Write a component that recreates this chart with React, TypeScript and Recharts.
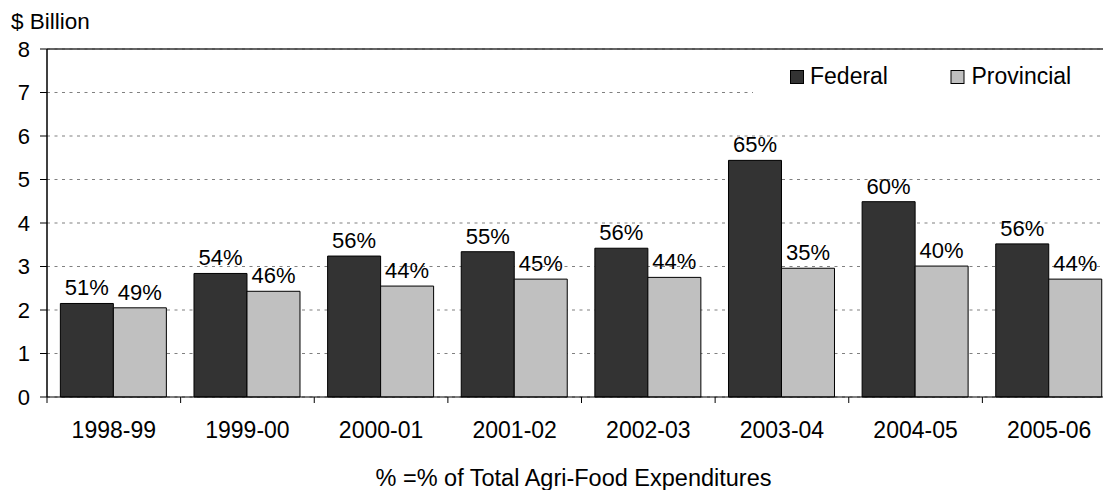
import React from 'react';
import {
  BarChart,
  Bar,
  XAxis,
  YAxis,
  CartesianGrid,
  Legend,
  LabelList,
  Label,
  ReferenceLine,
} from 'recharts';

// Fiscal years
const years = ['1998-99', '1999-00', '2000-01', '2001-02', '2002-03', '2003-04', '2004-05', '2005-06'];
// Spending, $ billion
const federal = [2.15, 2.84, 3.24, 3.34, 3.42, 5.44, 4.49, 3.52];
const provincial = [2.05, 2.43, 2.55, 2.71, 2.75, 2.96, 3.01, 2.71];
// Share of total agri-food expenditures, %
const federalShare = [51, 54, 56, 55, 56, 65, 60, 56];
const provincialShare = [49, 46, 44, 45, 44, 35, 40, 44];
// Value axis ticks
const yTicks = [0, 1, 2, 3, 4, 5, 6, 7, 8];

const data = years.map((year, i) => ({
  year,
  federal: federal[i],
  provincial: provincial[i],
  federalShare: federalShare[i],
  provincialShare: provincialShare[i],
}));

const FONT = '"Liberation Sans", Arial, sans-serif';
const FED_COLOR = '#333333';
const PROV_COLOR = '#C0C0C0';

// Category tick: label centred in the band, tick mark on the band's left edge
const YearTick = (props: any) => {
  const { x, y, payload } = props;
  const half = payload && typeof payload.offset === 'number' ? payload.offset : 66.8;
  const axisY = y - 8;
  return (
    <g>
      <line x1={x - half} x2={x - half} y1={axisY} y2={axisY + 6} stroke="#000" strokeWidth={1} />
      <text x={x} y={axisY} dy={41} textAnchor="middle" fontSize={23} fontFamily={FONT} fill="#000">
        {payload.value}
      </text>
    </g>
  );
};

const LegendBox = () => (
  <svg width={353} height={66} style={{ display: 'block' }}>
    <rect x={0} y={0} width={353} height={66} fill="#fff" />
    <rect x={37.5} y={13.5} width={13} height={13} fill={FED_COLOR} stroke="#000" strokeWidth={1} />
    <text x={57} y={27} fontSize={23} fontFamily={FONT} fill="#000">Federal</text>
    <rect x={198} y={13.5} width={13} height={13} fill={PROV_COLOR} stroke="#000" strokeWidth={1} />
    <text x={218.5} y={27} fontSize={23} fontFamily={FONT} fill="#000">Provincial</text>
  </svg>
);

export default function App() {
  return (
    <div style={{ width: 1103, height: 482, overflow: 'hidden' }}>
      <BarChart
        width={1108}
        height={482}
        data={data}
        margin={{ top: 41, right: 0, bottom: 0, left: 0 }}
        barCategoryGap="10%"
        barGap={0}
      >
        <CartesianGrid vertical={false} stroke="#808080" strokeDasharray="3 4.5" strokeWidth={1.2} />
        <ReferenceLine y={8} stroke="#333" strokeWidth={1.5} />
        <XAxis
          dataKey="year"
          height={93}
          axisLine={{ stroke: '#000', strokeWidth: 1 }}
          tickLine={false}
          tickSize={6}
          tickMargin={2}
          interval={0}
          tick={<YearTick />}
        >
          <Label
            value="% =% of Total Agri-Food Expenditures"
            position="insideBottom"
            offset={4}
            dx={-8}
            fontSize={23.5}
            fontFamily={FONT}
            fill="#000"
          />
        </XAxis>
        <YAxis
          width={39}
          domain={[0, 8]}
          ticks={yTicks}
          interval={0}
          axisLine={{ stroke: '#000', strokeWidth: 1.5 }}
          tickLine={{ stroke: '#000', strokeWidth: 1 }}
          tickSize={7}
          tickMargin={10}
          tick={{ fontSize: 22, fontFamily: FONT, fill: '#000' }}
        >
          <Label
            content={() => (
              <text x={3} y={21} fontSize={22.5} fontFamily={FONT} fill="#000">
                $ Billion
              </text>
            )}
          />
        </YAxis>
        <Legend
          layout="vertical"
          align="center"
          verticalAlign="middle"
          content={<LegendBox />}
          wrapperStyle={{ left: 745, top: 49, width: 353, height: 66 }}
        />
        <Bar dataKey="federal" fill={FED_COLOR} stroke="#000" strokeWidth={1} isAnimationActive={false}>
          <LabelList
            dataKey="federalShare"
            position="top"
            offset={8}
            formatter={(v: any) => `${v}%`}
            style={{ fontSize: 22, fontFamily: FONT, fill: '#000' }}
          />
        </Bar>
        <Bar dataKey="provincial" fill={PROV_COLOR} stroke="#000" strokeWidth={1} isAnimationActive={false}>
          <LabelList
            dataKey="provincialShare"
            position="top"
            offset={8}
            formatter={(v: any) => `${v}%`}
            style={{ fontSize: 22, fontFamily: FONT, fill: '#000' }}
          />
        </Bar>
      </BarChart>
    </div>
  );
}
